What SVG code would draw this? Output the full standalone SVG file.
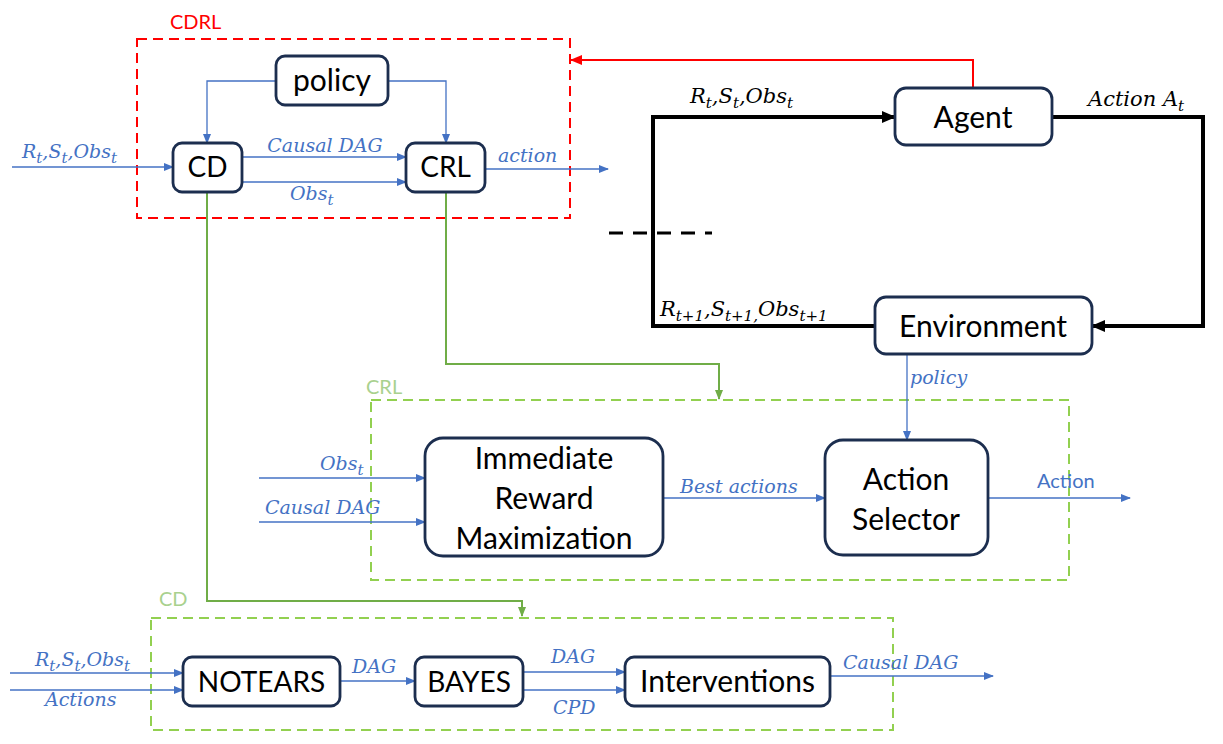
<svg xmlns="http://www.w3.org/2000/svg" width="1223" height="744" viewBox="0 0 1223 744">
<defs>
<style>
.node{fill:#fff;stroke:#1c2e4f;stroke-width:2.8}
.nt{font-family:Lato,"Open Sans","Liberation Sans",sans-serif;font-size:30px;fill:#000;text-anchor:middle}
.nc{font-size:28px}
.lb{font-family:"DejaVu Serif","Liberation Serif",serif;font-style:italic;font-size:19px;fill:#4472c4}
.lk{font-family:"DejaVu Serif","Liberation Serif",serif;font-style:italic;font-size:21px;fill:#000}
.sub{font-size:15px}
.blue{stroke:#4472c4;stroke-width:1.3;fill:none}
.grn{stroke:#70ad47;stroke-width:2;fill:none}
.blk{stroke:#000;stroke-width:4;fill:none}
.grpG{stroke:#92d050;stroke-width:2;fill:none;stroke-dasharray:10 6}
.grpR{stroke:#ff0000;stroke-width:2;fill:none;stroke-dasharray:10 6}
.gl{font-family:Lato,"Open Sans","Liberation Sans",sans-serif;font-size:20px}
</style>
<marker id="ab" markerWidth="10" markerHeight="8" refX="9" refY="4" orient="auto" markerUnits="userSpaceOnUse"><path d="M0,0 L10,4 L0,8 z" fill="#4472c4"/></marker>
<marker id="ag" markerWidth="10" markerHeight="8" refX="9" refY="4" orient="auto" markerUnits="userSpaceOnUse"><path d="M0,0 L10,4 L0,8 z" fill="#70ad47"/></marker>
<marker id="ar" markerWidth="12" markerHeight="10" refX="11" refY="5" orient="auto" markerUnits="userSpaceOnUse"><path d="M0,0 L12,5 L0,10 z" fill="#ff0000"/></marker>
<marker id="ak" markerWidth="14" markerHeight="12" refX="13" refY="6" orient="auto" markerUnits="userSpaceOnUse"><path d="M0,0 L14,6 L0,12 z" fill="#000"/></marker>
</defs>
<rect width="1223" height="744" fill="#fff"/>

<g id="group-cdrl">
<rect class="grpR" x="137" y="39" width="433" height="179"/>
<text class="gl" x="170" y="29" fill="#ff0000">CDRL</text>
</g>
<g id="group-crl">
<rect class="grpG" x="371" y="400" width="698" height="180"/>
<text class="gl" x="366" y="394" fill="#a9d18e">CRL</text>
</g>
<g id="group-cd">
<rect class="grpG" x="151" y="618" width="742" height="112"/>
<text class="gl" x="159" y="606" fill="#a9d18e">CD</text>
</g>

<g id="connectors">
<path class="blue" d="M276,81 H207 V143" marker-end="url(#ab)"/>
<path class="blue" d="M388,81 H446 V143" marker-end="url(#ab)"/>
<path class="blue" d="M12,167 H173" marker-end="url(#ab)"/>
<path class="blue" d="M242,157 H406" marker-end="url(#ab)"/>
<path class="blue" d="M242,182 H406" marker-end="url(#ab)"/>
<path class="blue" d="M485,169 H608" marker-end="url(#ab)"/>
<path d="M973,88 V60 H571" stroke="#ff0000" stroke-width="2" fill="none" marker-end="url(#ar)"/>
<path class="blk" d="M875,326 H653 V117 H895" marker-end="url(#ak)"/>
<path class="blk" d="M1052,117 H1203 V326 H1092" marker-end="url(#ak)"/>
<path d="M609,233 H712" stroke="#000" stroke-width="3" stroke-dasharray="14 10" fill="none"/>
<path class="grn" d="M207,192 V601 H522 V616" marker-end="url(#ag)"/>
<path class="grn" d="M446,192 V364 H719 V399" marker-end="url(#ag)"/>
<path class="blue" d="M259,478 H425" marker-end="url(#ab)"/>
<path class="blue" d="M259,522 H425" marker-end="url(#ab)"/>
<path class="blue" d="M663,498 H825" marker-end="url(#ab)"/>
<path class="blue" d="M907,354 V440" marker-end="url(#ab)"/>
<path class="blue" d="M988,498 H1130" marker-end="url(#ab)"/>
<path class="blue" d="M10,673 H183" marker-end="url(#ab)"/>
<path class="blue" d="M10,690 H183" marker-end="url(#ab)"/>
<path class="blue" d="M340,681 H415" marker-end="url(#ab)"/>
<path class="blue" d="M523,672 H625" marker-end="url(#ab)"/>
<path class="blue" d="M523,690 H625" marker-end="url(#ab)"/>
<path class="blue" d="M830,676 H993" marker-end="url(#ab)"/>

<text class="lb" x="22" y="158">R<tspan class="sub" dy="5">t</tspan><tspan dy="-5">,S</tspan><tspan class="sub" dy="5">t</tspan><tspan dy="-5">,Obs</tspan><tspan class="sub" dy="5">t</tspan></text>
<text class="lb" x="325" y="152" text-anchor="middle">Causal DAG</text>
<text class="lb" x="290" y="200">Obs<tspan class="sub" dy="5">t</tspan></text>
<text class="lb" x="498" y="162">action</text>
<text class="lk" x="690" y="103">R<tspan class="sub" dy="5">t</tspan><tspan dy="-5">,S</tspan><tspan class="sub" dy="5">t</tspan><tspan dy="-5">,Obs</tspan><tspan class="sub" dy="5">t</tspan></text>
<text class="lk" x="1088" y="106">Action A<tspan class="sub" dy="5">t</tspan></text>
<text class="lk" x="660" y="316">R<tspan class="sub" dy="5">t+1</tspan><tspan dy="-5">,S</tspan><tspan class="sub" dy="5">t+1,</tspan><tspan dy="-5">Obs</tspan><tspan class="sub" dy="5">t+1</tspan></text>
<text class="lb" x="320" y="470">Obs<tspan class="sub" dy="5">t</tspan></text>
<text class="lb" x="265" y="514">Causal DAG</text>
<text class="lb" x="680" y="493">Best actions</text>
<text class="lb" x="910" y="384">policy</text>
<text class="gl" x="1037" y="488" fill="#4472c4">Action</text>
<text class="lb" x="35" y="666">R<tspan class="sub" dy="5">t</tspan><tspan dy="-5">,S</tspan><tspan class="sub" dy="5">t</tspan><tspan dy="-5">,Obs</tspan><tspan class="sub" dy="5">t</tspan></text>
<text class="lb" x="45" y="706">Actions</text>
<text class="lb" x="352" y="673">DAG</text>
<text class="lb" x="551" y="663">DAG</text>
<text class="lb" x="553" y="714">CPD</text>
<text class="lb" x="843" y="669">Causal DAG</text>
</g>

<g id="node-policy"><rect class="node" x="276" y="56" width="112" height="49" rx="9"/><text class="nt" x="332" y="91">policy</text></g>
<g id="node-cd"><rect class="node" x="173" y="143" width="69" height="49" rx="9"/><text class="nt nc" x="207.5" y="177">CD</text></g>
<g id="node-crl"><rect class="node" x="406" y="143" width="79" height="49" rx="9"/><text class="nt nc" x="445.5" y="177">CRL</text></g>
<g id="node-agent"><rect class="node" x="895" y="88" width="157" height="57" rx="11"/><text class="nt" x="973" y="128">Agent</text></g>
<g id="node-environment"><rect class="node" x="875" y="297" width="217" height="57" rx="11"/><text class="nt" x="983" y="337">Environment</text></g>
<g id="node-irm"><rect class="node" x="425" y="438" width="238" height="118" rx="18"/><text class="nt" x="544" y="469">Immediate</text><text class="nt" x="544" y="509">Reward</text><text class="nt" x="544" y="549">Maximization</text></g>
<g id="node-action-selector"><rect class="node" x="825" y="440" width="163" height="115" rx="18"/><text class="nt" x="906" y="490">Action</text><text class="nt" x="906" y="530">Selector</text></g>
<g id="node-notears"><rect class="node" x="183" y="657" width="157" height="49" rx="9"/><text class="nt nc" x="261.5" y="692">NOTEARS</text></g>
<g id="node-bayes"><rect class="node" x="415" y="657" width="108" height="49" rx="9"/><text class="nt nc" x="469" y="692">BAYES</text></g>
<g id="node-interventions"><rect class="node" x="625" y="657" width="205" height="49" rx="9"/><text class="nt" x="727.5" y="692">Interventions</text></g>
</svg>
